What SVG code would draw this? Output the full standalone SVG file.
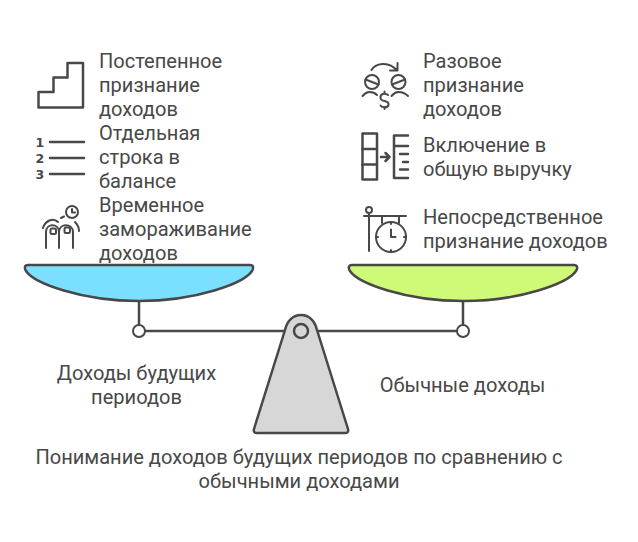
<svg xmlns="http://www.w3.org/2000/svg" width="638" height="542" viewBox="0 0 638 542">
<style>
text{font-family:Roboto,"Liberation Sans",sans-serif;font-size:20.07px;fill:#484848}
.s{fill:none;stroke:#484848;stroke-linecap:round;stroke-linejoin:round}
.t{stroke-width:2.5}
.i{stroke-width:2}
.b{fill:#fff;stroke:#484848;stroke-width:2}
.n{font-family:"DejaVu Sans",sans-serif;font-size:12.500px;font-weight:700}
.p{stroke:#484848;stroke-width:2.5;stroke-linejoin:round}
</style>
<rect width="638" height="542" fill="#fff"/>
<g id="connectors">
<path class="s t" d="M139 300V324M145 331H285M317 331H457M463 300V324"/>
</g>
<g id="pan-left"><path class="p" fill="#7bdfff" d="M28 265H250C253.500 265 254 268 252 271C244 283 197 301 139 301C81 301 34 283 26 271C24 268 24.500 265 28 265Z"/></g>
<g id="pan-right"><path class="p" fill="#cffa78" d="M352 265H574C577.500 265 578 268 576 271C568 283 521 301 463 301C405 301 358 283 350 271C348 268 348.500 265 352 265Z"/></g>
<g id="pivot-left"><circle class="b" cx="139" cy="331" r="6"/></g>
<g id="pivot-right"><circle class="b" cx="463" cy="331" r="6"/></g>
<g id="fulcrum">
<path class="p" fill="#d7d7d7" d="M285 330C287 321 293 315 301 315C309 315 315 321 317 330L348 429Q349 433 345 433H257Q253 433 254 429Z"/>
<circle cx="301" cy="331" r="7" fill="#d7d7d7" stroke="#484848" stroke-width="2.5"/>
</g>
<g id="icon-stairs"><path class="s t" d="M38.500 107.500V92H53.500V77.500H67.500V63H83V107.500Z"/></g>
<g id="icon-list">
<path class="s t" d="M50 142H84M50 158H84M50 174H84"/>
<text class="n" x="35.500" y="147">1</text>
<text class="n" x="35.500" y="163">2</text>
<text class="n" x="35.500" y="179">3</text>
</g>
<g id="icon-freeze"><g class="s i">
<path d="M46 248V232C46 223 59 223 59 232V248M59 248V232C59 223 73 223 73 232V248"/>
<rect x="50.500" y="228.500" width="5.500" height="5.500" rx="1.500"/><rect x="64.500" y="227.500" width="5.500" height="5.500" rx="1.500"/>
<path d="M43 228C45 221 53 217 58 222M61 218L64 216.500M75 222C77 224 79 227 79 231"/>
<circle cx="72" cy="212" r="6"/><path d="M72 209V212.500H75"/>
</g></g>
<g id="icon-exchange"><g class="s i">
<circle cx="372" cy="82" r="7"/><path d="M365.500 79.500L378.500 84.500"/>
<circle cx="398.500" cy="82" r="7"/><path d="M392 84.500L405 79.500"/>
<path d="M362.500 96C365 93 367 92 369.500 92C373 92 375 93 377 95M391.500 96C394 93 396 92 398.500 92C402 92 405 93 408 96"/>
<path d="M371.500 70C375 64 388 60 397 70.500M397.500 63V70.500H390"/>
<path d="M388 95C386 93 381 93 380.500 97C380 100 382 100.500 384.500 101C387 101.500 389 102 388.500 105C388 108 382 108 380.500 105.500M384.500 91.500V93.500M384.500 107V109"/>
</g></g>
<g id="icon-table"><g class="s t">
<rect x="362.500" y="133.500" width="14.500" height="46"/><path d="M362.500 149H377M362.500 164.500H377"/>
<path d="M381 157H389.500M385.500 153L389.500 157L385.500 161"/>
<path d="M408 135.500H394V178H408M394 146H408M400 154H408M403 162H408M400 169.500H408"/>
</g></g>
<g id="icon-clock"><g class="s i">
<circle cx="369" cy="210" r="3"/><path d="M369 213V251M364 216H406M382 216V223M399 216V223"/>
<circle cx="391" cy="237" r="15"/><path d="M391 229.500V237H395.500M391 222V224M391 250V252M376 237H378M404 237H406"/>
</g></g>
<g id="left-1"><text x="99" y="68">Постепенное</text><text x="99" y="92">признание</text><text x="99" y="116">доходов</text></g>
<g id="left-2"><text x="99" y="140">Отдельная</text><text x="99" y="164">строка в</text><text x="99" y="188">балансе</text></g>
<g id="left-3"><text x="99" y="212">Временное</text><text x="99" y="236">замораживание</text><text x="99" y="260">доходов</text></g>
<g id="right-1"><text x="423" y="68">Разовое</text><text x="423" y="92">признание</text><text x="423" y="116">доходов</text></g>
<g id="right-2"><text x="423" y="152">Включение в</text><text x="423" y="176">общую выручку</text></g>
<g id="right-3"><text x="423" y="224">Непосредственное</text><text x="423" y="248">признание доходов</text></g>
<g id="label-left"><text x="136.500" y="380" text-anchor="middle">Доходы будущих</text><text x="136.500" y="404" text-anchor="middle">периодов</text></g>
<g id="label-right"><text x="462.500" y="392" text-anchor="middle">Обычные доходы</text></g>
<g id="title"><text x="299" y="464" text-anchor="middle">Понимание доходов будущих периодов по сравнению с</text><text x="299" y="488" text-anchor="middle">обычными доходами</text></g>
</svg>
